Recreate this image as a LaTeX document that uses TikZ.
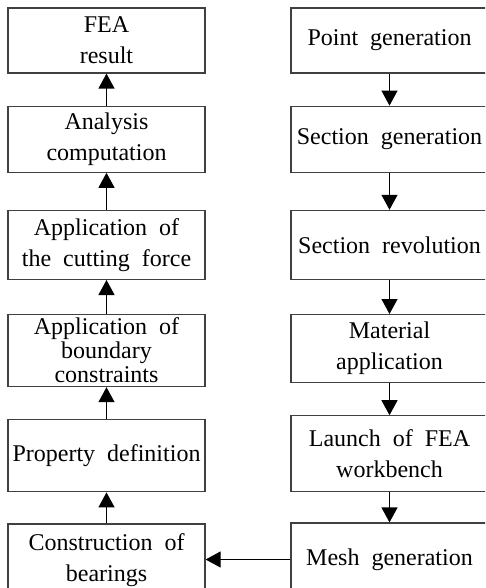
\documentclass[tikz,border=0pt]{standalone}
\usepackage{fontspec}
\setmainfont{Liberation Serif}
\usepackage{tikz}
\usetikzlibrary{arrows.meta,positioning}
\newcommand{\boxfont}{\fontsize{24}{31}\selectfont\spaceskip=0.5em plus 0.1em minus 0.1em\relax}
\newcommand{\tightfont}{\fontsize{24}{24}\selectfont\spaceskip=0.5em plus 0.1em minus 0.1em\relax}

\begin{document}
\begin{tikzpicture}[
    x=1pt, y=-1pt,
    >={Triangle[length=15pt,width=16pt]},
    box/.style={draw=black!75, line width=1.2pt, minimum width=197pt, inner sep=1pt, align=center, font=\boxfont},
    tight/.style={font=\tightfont},
    flow/.style={->, line width=1.2pt},
  ]
  \clip (0,0) rectangle (485,588);
  % left column, read from bottom to top
  \node[box, minimum height=65pt] (res) at (106.5,40.5) {FEA\\ result};
  \node[box, minimum height=66pt, below=32pt of res] (ana) {Analysis\\ computation};
  \node[box, minimum height=69pt, below=37pt of ana] (force) {Application of\\ the cutting force};
  \node[box, tight, minimum height=72pt, below=34pt of force] (bc) {Application of\\ boundary\\ constraints};
  \node[box, minimum height=72pt, below=32pt of bc] (prop) {Property definition};
  \node[box, minimum height=72pt, below=31pt of prop] (bear) {Construction of\\ bearings};

  % right column
  \node[box, minimum height=65pt] (pt) at (389.5,40.5) {Point generation};
  \node[box, minimum height=66pt, below=32pt of pt] (sec) {Section generation};
  \node[box, minimum height=69pt, below=37pt of sec] (rev) {Section revolution};
  \node[box, minimum height=68pt, below=34pt of rev] (mat) {Material\\ application};
  \node[box, minimum height=76pt, below=32pt of mat] (wb) {Launch of FEA\\ workbench};
  \node[box, minimum height=73pt, below=30pt of wb] (mesh) {Mesh generation};

  \draw[flow] (pt) -- (sec);
  \draw[flow] (sec) -- (rev);
  \draw[flow] (rev) -- (mat);
  \draw[flow] (mat) -- (wb);
  \draw[flow] (wb) -- (mesh);
  \draw[flow] (mesh.west) -- (mesh.west -| bear.east);
  \draw[flow] (bear) -- (prop);
  \draw[flow] (prop) -- (bc);
  \draw[flow] (bc) -- (force);
  \draw[flow] (force) -- (ana);
  \draw[flow] (ana) -- (res);
\end{tikzpicture}
\end{document}
